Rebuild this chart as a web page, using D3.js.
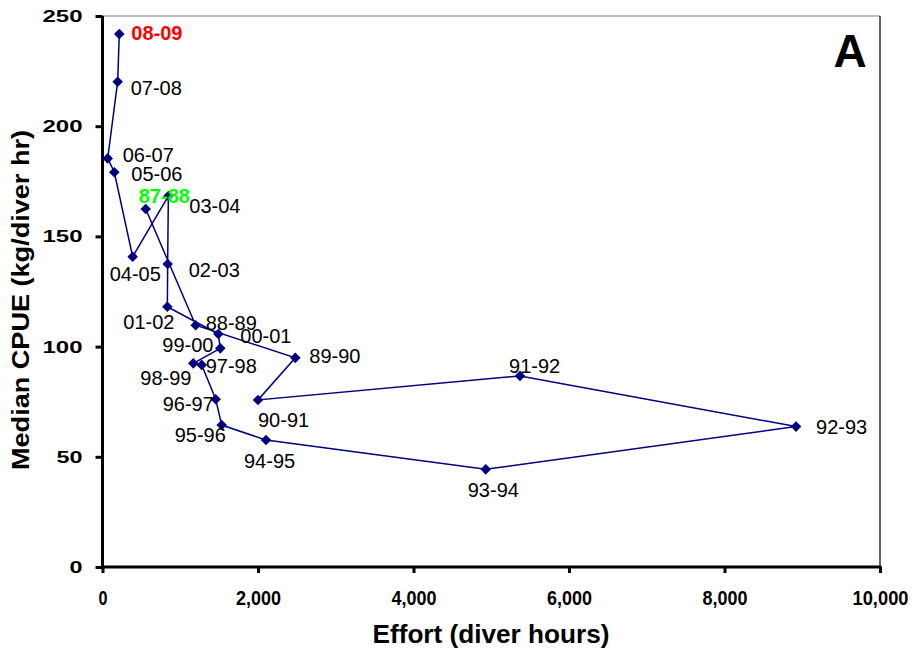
<!DOCTYPE html>
<html>
<head>
<meta charset="utf-8">
<script src="https://cdn.jsdelivr.net/npm/d3@7"></script>
<style>
  body { margin: 0; background: white; }
  text { font-family: "Liberation Sans", Arial, sans-serif; }
</style>
</head>
<body>
<div id="chart"></div>
<script>
// season labels, in time order (the line joins them in this order)
var seasons = ["87-88","88-89","89-90","90-91","91-92","92-93","93-94","94-95","95-96","96-97",
  "97-98","98-99","99-00","00-01","01-02","02-03","03-04","04-05","05-06","06-07","07-08","08-09"];
// effort (diver hours)
var effort = [556, 1198, 2480, 2000, 5370, 8920, 4929, 2103, 1533, 1456,
  1276, 1168, 1515, 1490, 834, 838, 847, 388, 152, 67, 195, 216];
// median CPUE (kg/diver hr)
var cpue = [162.4, 109.7, 94.9, 75.8, 86.7, 63.7, 44.3, 57.6, 64.4, 76.1,
  91.7, 92.4, 99.2, 105.7, 118.1, 137.5, 168.3, 140.8, 179.1, 185.4, 220.2, 241.8];
var xTicks = [0, 2000, 4000, 6000, 8000, 10000];
var yTicks = [0, 50, 100, 150, 200, 250];

// where each season label sits relative to its marker (px)
var labelOffset = {
  "87-88": [-7, -6], "88-89": [10, 5], "89-90": [14, 5], "90-91": [0, 27],
  "91-92": [-11, -3], "92-93": [20, 7], "93-94": [-18, 28], "94-95": [-22, 28],
  "95-96": [-47, 17], "96-97": [-53, 12], "97-98": [4, 8], "98-99": [-53, 22],
  "99-00": [-58, 4], "00-01": [22, 9], "01-02": [-44, 22], "02-03": [21, 13],
  "03-04": [21, 17], "04-05": [-23, 24], "05-06": [17, 9], "06-07": [15, 4],
  "07-08": [13, 13], "08-09": [12, 6]
};
var highlight = {"08-09": "#ff0000", "87-88": "#00ff00"};

var W = 915, H = 654;
var margin = {top: 16, right: 35, bottom: 87, left: 102.5},
    width = 880 - margin.left,
    height = 567 - margin.top;

var svg = d3.select("#chart").append("svg")
    .attr("width", W)
    .attr("height", H)
  .append("g")
    .attr("transform", "translate(" + margin.left + "," + margin.top + ")");

var x = d3.scaleLinear().domain([0, 10000]).range([0, width]);
var y = d3.scaleLinear().domain([0, 250]).range([height, 0]);

// plot frame: grey top, black thin right
svg.append("line").attr("x1", 0).attr("x2", width).attr("y1", 0).attr("y2", 0)
  .attr("stroke", "#808080").attr("stroke-width", 1.2);
svg.append("line").attr("x1", width).attr("x2", width).attr("y1", 0).attr("y2", height)
  .attr("stroke", "#000").attr("stroke-width", 1.2);

// x axis
var xAxis = svg.append("g")
  .attr("transform", "translate(0," + height + ")")
  .call(d3.axisBottom(x).tickValues(xTicks).tickFormat(d3.format(",")).tickSize(6).tickPadding(18));
xAxis.select(".domain").attr("stroke-width", 3).attr("d", "M-1.5,0H" + (width + 1.5));
xAxis.selectAll(".tick line").attr("stroke-width", 3);
xAxis.selectAll(".tick text")
  .style("font-size", "20px").style("font-weight", "bold").attr("fill", "#000")
  .attr("lengthAdjust", "spacingAndGlyphs")
  .attr("textLength", function(d) { return d == 0 ? 9 : (d < 10000 ? 45 : 56); });

// y axis
var yAxis = svg.append("g")
  .call(d3.axisLeft(y).tickValues(yTicks).tickSize(7).tickPadding(13));
yAxis.select(".domain").attr("stroke-width", 3).attr("d", "M0,0V" + (height + 1.5));
yAxis.selectAll(".tick line").attr("stroke-width", 3);
yAxis.selectAll(".tick text")
  .style("font-size", "17px").style("font-weight", "bold").attr("fill", "#000")
  .attr("lengthAdjust", "spacingAndGlyphs")
  .attr("textLength", function(d) { return d == 0 ? 13 : (d < 100 ? 26 : 40); });

// axis titles
svg.append("text")
  .attr("x", 491 - margin.left).attr("y", 643 - margin.top)
  .attr("text-anchor", "middle")
  .style("font-size", "25px").style("font-weight", "bold")
  .attr("textLength", 237).attr("lengthAdjust", "spacingAndGlyphs")
  .text("Effort (diver hours)");

svg.append("text")
  .attr("transform", "translate(" + (29 - margin.left) + "," + (300 - margin.top) + ") rotate(-90)")
  .attr("text-anchor", "middle")
  .style("font-size", "24px").style("font-weight", "bold")
  .attr("textLength", 340).attr("lengthAdjust", "spacingAndGlyphs")
  .text("Median CPUE (kg/diver hr)");

// panel letter
svg.append("text")
  .attr("x", 850 - margin.left).attr("y", 67 - margin.top)
  .attr("text-anchor", "middle")
  .style("font-size", "46px").style("font-weight", "bold")
  .text("A");

var data = seasons.map(function(s, i) { return {season: s, effort: effort[i], cpue: cpue[i]}; });

// connecting line
svg.append("path")
  .datum(data)
  .attr("fill", "none")
  .attr("stroke", "#000080")
  .attr("stroke-width", 1.5)
  .attr("d", d3.line().x(function(d) { return x(d.effort); }).y(function(d) { return y(d.cpue); }));

// diamond markers
svg.selectAll(".pt")
  .data(data)
  .enter()
  .append("path")
    .attr("class", "pt")
    .attr("transform", function(d) { return "translate(" + x(d.effort) + "," + y(d.cpue) + ")"; })
    .attr("d", "M0,-5.3L5.3,0L0,5.3L-5.3,0Z")
    .attr("fill", "#000080");

// season labels
svg.selectAll(".lbl")
  .data(data)
  .enter()
  .append("text")
    .attr("class", "lbl")
    .attr("x", function(d) { return x(d.effort) + labelOffset[d.season][0]; })
    .attr("y", function(d) { return y(d.cpue) + labelOffset[d.season][1]; })
    .style("font-size", "20px")
    .style("font-weight", function(d) { return highlight[d.season] ? "bold" : "normal"; })
    .attr("fill", function(d) { return highlight[d.season] || "#000"; })
    .text(function(d) { return d.season; });
</script>
</body>
</html>
